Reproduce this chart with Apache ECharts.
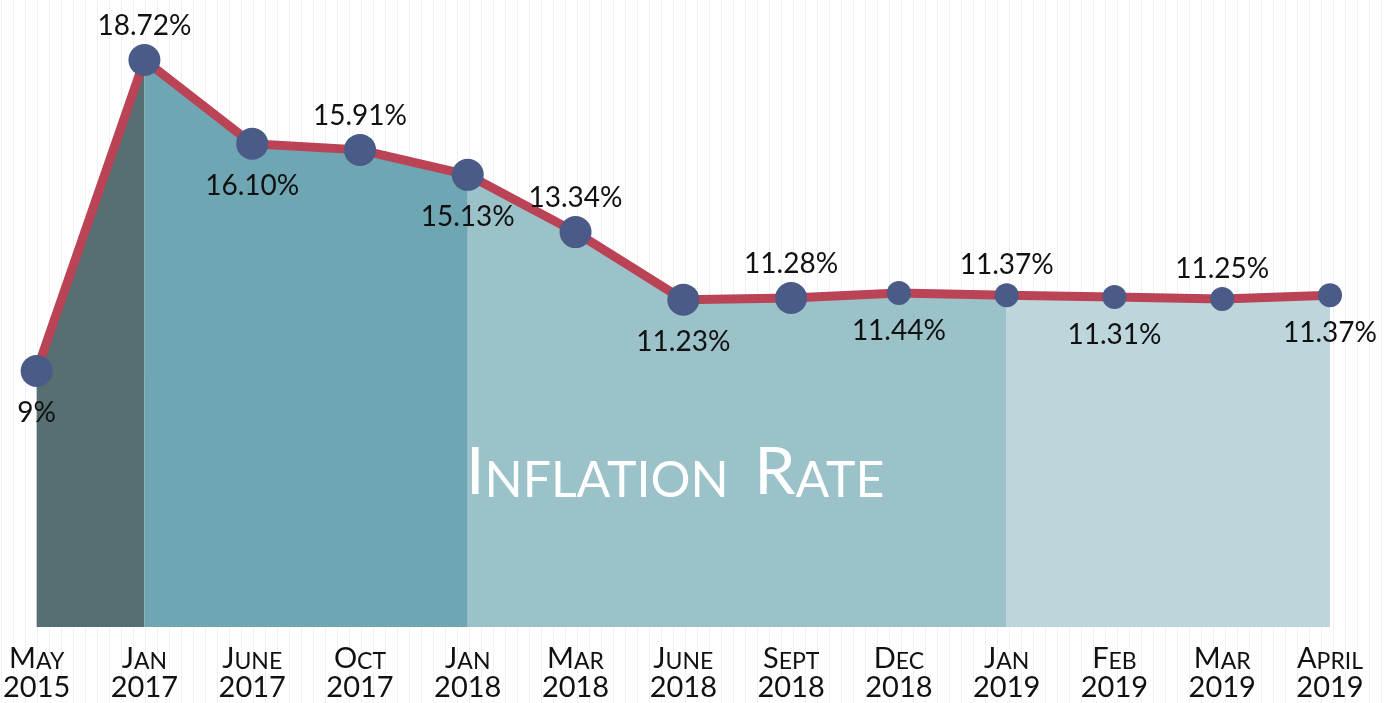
<!DOCTYPE html>
<html>
<head>
<meta charset="utf-8">
<script src="https://cdn.jsdelivr.net/npm/echarts@6/dist/echarts.min.js"></script>
<style>
  html, body { margin: 0; padding: 0; background: #fff; }
  #chart { width: 1388px; height: 703px; }
</style>
</head>
<body>
<div id="chart"></div>
<script>
  // periods on the x axis
  const periods = ['May 2015', 'Jan 2017', 'June 2017', 'Oct 2017', 'Jan 2018', 'Mar 2018',
    'June 2018', 'Sept 2018', 'Dec 2018', 'Jan 2019', 'Feb 2019', 'Mar 2019', 'April 2019']
  // inflation rate (%)
  const rates = [9, 18.72, 16.10, 15.91, 15.13, 13.34, 11.23, 11.28, 11.44, 11.37, 11.31, 11.25, 11.37]
  // where the shaded bands change colour (index ranges)
  const bands = [[0, 1], [1, 4], [4, 9], [9, 12]]
  const bandColors = ['#566f73', '#6ea6b3', '#9bc1c9', '#bcd6db']

  const font = 'Lato'

  const axisLabel = function (value) {
    const parts = value.split(' ')
    const m = parts[0]
    return '{b|' + m[0] + '}{s|' + m.slice(1).toUpperCase() + '}\n{y|' + parts[1] + '}'
  }

  const areaSeries = bands.map(function (b, i) {
    return {
      type: 'line',
      xAxisIndex: 0,
      yAxisIndex: 0,
      data: rates.map(function (v, k) { return (k >= b[0] && k <= b[1]) ? v : '-' }),
      symbol: 'none',
      lineStyle: { width: 0 },
      areaStyle: { color: bandColors[i], opacity: 1, origin: 'start' },
      z: 1,
      silent: true,
    }
  })

  const lineData = rates.map(function (v, k) {
    const top = k % 2 === 1
    return {
      value: v,
      label: {
        position: top ? 'top' : 'bottom',
        distance: top ? 4 : 12,
      },
    }
  })

  const chart = echarts.init(document.getElementById('chart'))
  const option = {
    animation: false,
    backgroundColor: '#ffffff',
    grid: [
      { left: 35, right: 58, top: 19, bottom: 76 },
      { left: 1, right: 7, top: 0, bottom: 0 },
    ],
    xAxis: [
      {
        type: 'category',
        gridIndex: 0,
        data: periods,
        boundaryGap: false,
        axisLine: { show: false },
        axisTick: { show: false },
        splitLine: { show: false },
        axisLabel: {
          formatter: axisLabel,
          margin: 16,
          interval: 0,
          color: '#111',
          fontFamily: font,
          rich: {
            b: { fontSize: 29, fontFamily: font, color: '#111', lineHeight: 30, verticalAlign: 'bottom' },
            s: { fontSize: 23, fontFamily: font, color: '#111', lineHeight: 30, verticalAlign: 'bottom' },
            y: { fontSize: 29, fontFamily: font, color: '#111', lineHeight: 30 },
          },
        },
      },
      {
        type: 'value',
        gridIndex: 1,
        min: 0,
        max: 115,
        interval: 1,
        show: true,
        axisLine: { show: false },
        axisTick: { show: false },
        axisLabel: { show: false },
        splitLine: { show: true, lineStyle: { color: '#f1f1f1', width: 1 } },
      },
    ],
    yAxis: [
      { type: 'value', gridIndex: 0, min: 1, max: 20, show: false },
      { type: 'value', gridIndex: 1, min: 0, max: 1, show: false },
    ],
    graphic: [{
      type: 'text',
      left: 466,
      top: 440,
      z: 10,
      style: {
        text: '{b|I}{s|NFLATION\u00a0\u00a0}{b|R}{s|ATE}',
        rich: {
          b: { fontSize: 66, fontFamily: font, fill: '#ffffff', verticalAlign: 'bottom', lineHeight: 64 },
          s: { fontSize: 50, fontFamily: font, fill: '#ffffff', verticalAlign: 'bottom', lineHeight: 64 },
        },
      },
    }],
    series: areaSeries.concat([{
      type: 'line',
      name: 'Inflation Rate',
      xAxisIndex: 0,
      yAxisIndex: 0,
      data: lineData,
      z: 5,
      symbol: 'circle',
      symbolSize: function (v, p) { return p.dataIndex < 8 ? 32 : 24 },
      lineStyle: { color: '#ba4456', width: 9 },
      itemStyle: { color: '#4a5b88' },
      label: {
        show: true,
        formatter: function (p) { return Number.isInteger(p.value) ? p.value + '%' : p.value.toFixed(2) + '%' },
        fontSize: 28,
        fontFamily: font,
        color: '#111',
      },
    }]),
  }
  chart.setOption(option)
</script>
</body>
</html>
